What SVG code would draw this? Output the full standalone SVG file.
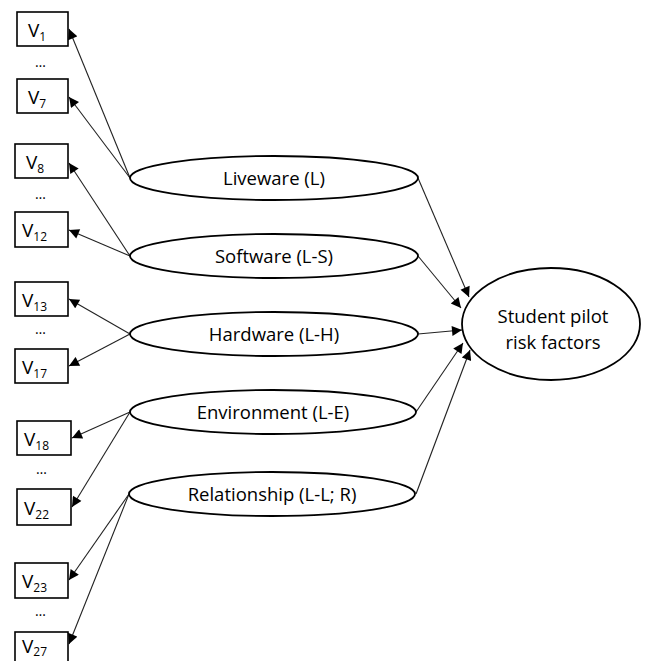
<svg xmlns="http://www.w3.org/2000/svg" width="669" height="661" viewBox="0 0 669 661">
<defs>
<marker id="ah" viewBox="0 0 10 10" refX="10" refY="5" markerWidth="12" markerHeight="10" markerUnits="userSpaceOnUse" orient="auto">
<path d="M0,0 L10,5 L0,10 z" fill="#000"/>
</marker>
</defs>
<style>
.box{fill:#fff;stroke:#000;stroke-width:1.6}
.ell{fill:#fff;stroke:#000;stroke-width:1.8}
.v{font-family:"Open Sans","Liberation Sans",sans-serif;font-size:19px;fill:#000}
.s{font-size:12px}
.dots{font-family:"Open Sans","Liberation Sans",sans-serif;font-size:14px;fill:#000}
.lbl{font-family:"Open Sans","Liberation Sans",sans-serif;font-size:18.5px;fill:#000;text-anchor:middle}
.big{font-family:"Open Sans","Liberation Sans",sans-serif;font-size:18.5px;fill:#000;text-anchor:middle}
.c{stroke:#222;stroke-width:1.1;fill:none;marker-end:url(#ah)}
</style>
<rect width="669" height="661" fill="#fff"/>
<g id="connectors">
<line class="c" x1="130" y1="178" x2="69" y2="29"/>
<line class="c" x1="130" y1="178" x2="69" y2="97"/>
<line class="c" x1="130" y1="256" x2="69" y2="163"/>
<line class="c" x1="130" y1="256" x2="69" y2="230"/>
<line class="c" x1="130" y1="334" x2="69" y2="299"/>
<line class="c" x1="130" y1="334" x2="69" y2="366"/>
<line class="c" x1="130" y1="412" x2="72" y2="438"/>
<line class="c" x1="130" y1="412" x2="72" y2="507"/>
<line class="c" x1="129" y1="494" x2="69" y2="580"/>
<line class="c" x1="129" y1="494" x2="69" y2="644"/>
<line class="c" x1="418" y1="178" x2="469" y2="297"/>
<line class="c" x1="418" y1="256" x2="461" y2="308"/>
<line class="c" x1="418" y1="334" x2="462" y2="330"/>
<line class="c" x1="416" y1="412" x2="463" y2="343"/>
<line class="c" x1="416" y1="494" x2="470" y2="350"/>
</g>
<g id="v1"><rect class="box" x="17" y="12" width="51" height="34"/><text class="v" x="28" y="37">V<tspan class="s" dy="4">1</tspan></text></g>
<text class="dots" x="35" y="67">…</text>
<g id="v7"><rect class="box" x="17" y="79" width="51" height="34"/><text class="v" x="28" y="104">V<tspan class="s" dy="4">7</tspan></text></g>
<g id="v8"><rect class="box" x="15" y="144" width="53" height="34"/><text class="v" x="26" y="169">V<tspan class="s" dy="4">8</tspan></text></g>
<text class="dots" x="35" y="199">…</text>
<g id="v12"><rect class="box" x="15" y="212" width="53" height="35"/><text class="v" x="22" y="237">V<tspan class="s" dy="4">12</tspan></text></g>
<g id="v13"><rect class="box" x="15" y="282" width="53" height="34"/><text class="v" x="22" y="307">V<tspan class="s" dy="4">13</tspan></text></g>
<text class="dots" x="35" y="334">…</text>
<g id="v17"><rect class="box" x="15" y="349" width="53" height="34"/><text class="v" x="22" y="374">V<tspan class="s" dy="4">17</tspan></text></g>
<g id="v18"><rect class="box" x="17" y="421" width="54" height="34"/><text class="v" x="24" y="446">V<tspan class="s" dy="4">18</tspan></text></g>
<text class="dots" x="36" y="474">…</text>
<g id="v22"><rect class="box" x="17" y="489" width="54" height="36"/><text class="v" x="24" y="515">V<tspan class="s" dy="4">22</tspan></text></g>
<g id="v23"><rect class="box" x="15" y="563" width="53" height="35"/><text class="v" x="22" y="588">V<tspan class="s" dy="4">23</tspan></text></g>
<text class="dots" x="35" y="616">…</text>
<g id="v27"><rect class="box" x="15" y="632" width="53" height="36"/><text class="v" x="22" y="653">V<tspan class="s" dy="3">27</tspan></text></g>
<g id="liveware"><ellipse class="ell" cx="274" cy="178" rx="144" ry="22"/><text class="lbl" x="274" y="185">Liveware (L)</text></g>
<g id="software"><ellipse class="ell" cx="274" cy="256" rx="144" ry="22"/><text class="lbl" x="274" y="263">Software (L-S)</text></g>
<g id="hardware"><ellipse class="ell" cx="274" cy="334" rx="144" ry="22"/><text class="lbl" x="274" y="341">Hardware (L-H)</text></g>
<g id="environment"><ellipse class="ell" cx="273" cy="412" rx="143" ry="22"/><text class="lbl" x="273" y="419">Environment (L-E)</text></g>
<g id="relationship"><ellipse class="ell" cx="272" cy="494" rx="143" ry="22"/><text class="lbl" x="272" y="501">Relationship (L-L; R)</text></g>
<g id="student"><ellipse class="ell" cx="551" cy="324" rx="89" ry="56"/><text class="big" x="553" y="323">Student pilot</text><text class="big" x="553" y="349">risk factors</text></g>
</svg>
